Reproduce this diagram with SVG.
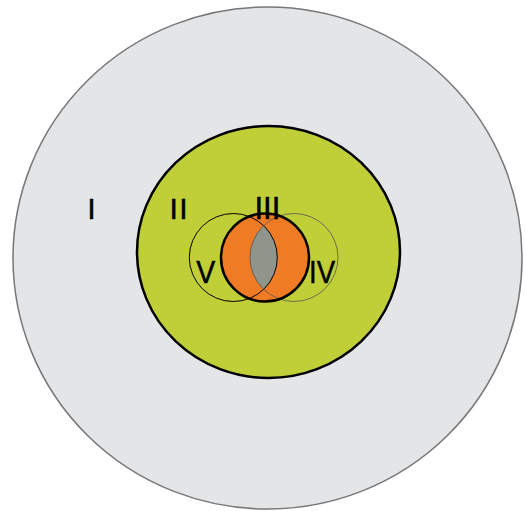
<svg xmlns="http://www.w3.org/2000/svg" width="525" height="511" viewBox="0 0 525 511">
  <style>
    .lbl { font-family: "Liberation Sans", Arial, sans-serif; fill: #000; stroke: #000; stroke-width: 0.5px; }
  </style>
  <rect width="525" height="511" fill="#ffffff"/>
  <g id="region-I">
    <ellipse cx="267.5" cy="258" rx="254.5" ry="251" fill="#e3e5e7" stroke="#777777" stroke-width="1.5"/>
  </g>
  <g id="region-II">
    <ellipse cx="268.5" cy="252" rx="131.5" ry="126" fill="#c0cf38" stroke="#000" stroke-width="2.5"/>
  </g>
  <g id="region-III">
    <circle cx="265" cy="257.5" r="44" fill="#f07b25"/>
    <path d="M 263.65 225.6 A 44 44 0 0 1 263.65 289.4 A 44 44 0 0 1 263.65 225.6 Z" fill="#8f958b"/>
  </g>
  <g id="region-V">
    <circle cx="233.3" cy="257.5" r="44" fill="none" stroke="#000" stroke-width="1"/>
  </g>
  <g id="region-IV">
    <circle cx="294" cy="257.5" r="44" fill="none" stroke="#555" stroke-width="0.8"/>
  </g>
  <g id="region-III-outline">
    <circle cx="265" cy="257.5" r="44" fill="none" stroke="#000" stroke-width="2.5"/>
  </g>
  <g id="labels">
    <text class="lbl" x="87.5" y="218.5" font-size="29">I</text>
    <text class="lbl" x="169.5" y="218.5" font-size="30" textLength="18" lengthAdjust="spacing">II</text>
    <text class="lbl" x="254.5" y="219" font-size="31">III</text>
    <text class="lbl" x="196.3" y="283" font-size="32" textLength="19" lengthAdjust="spacingAndGlyphs">V</text>
    <text class="lbl" x="309" y="283" font-size="32" textLength="26" lengthAdjust="spacingAndGlyphs">IV</text>
  </g>
</svg>
